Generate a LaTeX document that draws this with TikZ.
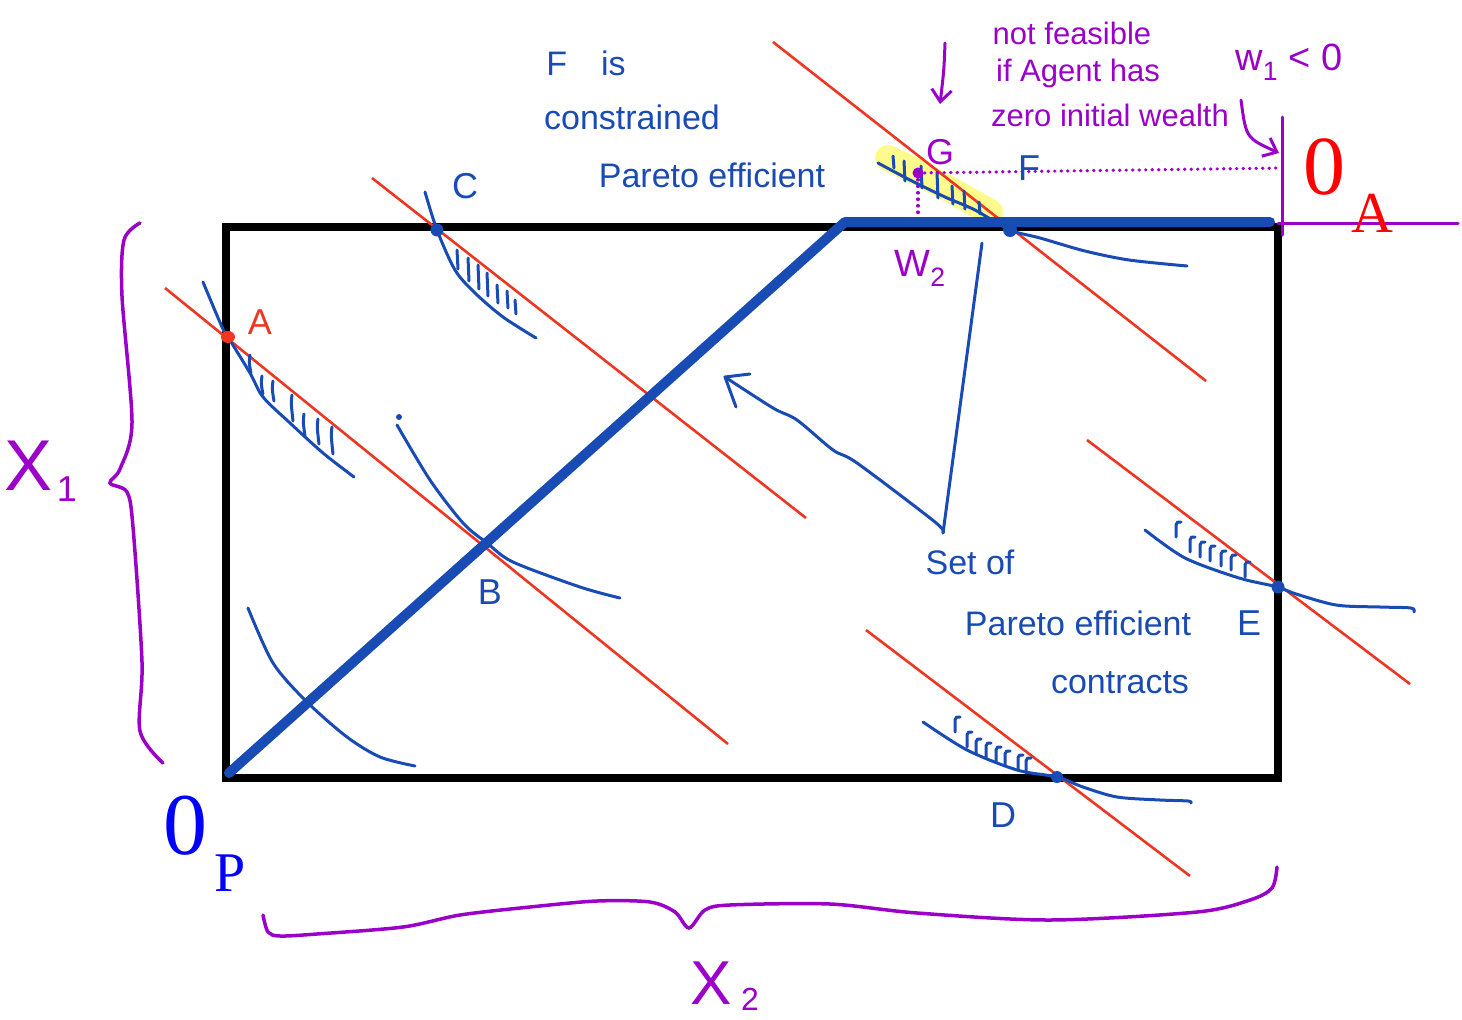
\documentclass[tikz,border=0pt]{standalone}
\usepackage{fontspec}
\setmainfont{Liberation Sans}
\newfontfamily\serifA{Liberation Serif}
\usetikzlibrary{arrows.meta}
\definecolor{pblue}{RGB}{25,75,180}
\definecolor{pred}{RGB}{238,55,35}
\definecolor{ppurple}{RGB}{155,0,200}
\definecolor{hlyellow}{RGB}{255,250,140}
\begin{document}
\begin{tikzpicture}[x=1pt,y=-1pt,
  redl/.style={pred,line width=2.6pt},
  icurve/.style={pblue,line width=3pt,line cap=round,line join=round},
  hatch/.style={pblue,line width=3pt,line cap=round},
  pline/.style={ppurple,line width=3pt,line cap=round},
  pdots/.style={ppurple,line width=3.2pt,line cap=round,dash pattern=on 0.5pt off 6pt},
  hw/.style={font=\fontsize{34}{40}\selectfont,text=pblue,inner sep=0pt},
  hwp/.style={font=\fontsize{31}{36}\selectfont,text=ppurple,inner sep=0pt},
  lbl/.style={font=\fontsize{36}{40}\selectfont,inner sep=0pt},
  barb/.style={-{Straight Barb[length=12pt,width=20pt,line width=3pt]}}
]
\useasboundingbox (0,0) rectangle (1462,1020);

% key points
\coordinate (OP) at (229,773);
\coordinate (K) at (845,222);
\coordinate (TR) at (1270,222);
\coordinate (A) at (228,337);
\coordinate (B) at (487,543);
\coordinate (C) at (437,230);
\coordinate (D) at (1057,777);
\coordinate (E) at (1278,587);
\coordinate (F) at (1010,230);
\coordinate (G) at (918,173);
\coordinate (setv) at (943,533);
\coordinate (arrtip) at (725,377);
\coordinate (ftop) at (982,243);

% Edgeworth box
\draw[line width=7.5pt,black] (226,227) rectangle (1278,778);

% yellow highlight
\draw[hlyellow,line width=26pt,line cap=round] (888,158) .. controls (930,178) and (960,195) .. (990,212);

% budget lines
\draw[redl] (165,288) -- (728,744);
\draw[redl] (372,178) -- (806,518);
\draw[redl] (773,42) -- (1206,381);
\draw[redl] (1087,440) -- (1410,684);
\draw[redl] (866,630) -- (1190,876);

% indifference curves
\draw[icurve] plot[smooth] coordinates {(203,282) (222,327) (228,337) (250,373) (263,397) (290,423) (323,453) (354,477)};
\draw[icurve] plot[smooth] coordinates {(425,192) (437,230) (455,270) (475,293) (503,317) (536,338)};
\draw[icurve] plot[smooth] coordinates {(397,425) (430,480) (463,523) (487,543) (513,562) (580,587) (620,598)};
\fill[pblue] (399,417) circle (3pt);
\draw[icurve] plot[smooth] coordinates {(248,608) (273,663) (307,702) (347,737) (380,757) (415,766)};
\draw[icurve] plot[smooth] coordinates {(878,163) (910,180) (945,197) (975,210) (1010,230) (1040,238) (1085,251) (1129,260) (1187,266)};
\draw[icurve] plot[smooth] coordinates {(1145,530) (1185,558) (1239,578) (1278,587) (1293,593) (1336,605) (1380,607) (1411,608) (1414,612)};
\draw[icurve] plot[smooth] coordinates {(923,722) (967,750) (1017,770) (1057,777) (1083,787) (1117,797) (1160,800) (1188,801) (1191,803)};

% hatches
\foreach \x/\ya/\yb in {250/355/373, 262/376/394, 273/381/401, 292/395/421, 304/414/436, 318/419/444, 332/427/454}
  \draw[hatch] (\x,\ya) .. controls (\x-1,\ya+8) .. (\x+1,\yb);
\foreach \x/\ya/\yb in {457/250/269, 468/258/281, 478/265/289, 487/273/296, 497/285/303, 507/291/308, 515/300/314}
  \draw[hatch] (\x,\ya) -- (\x+1,\yb);
\foreach \x/\ya/\yb in {893/156/168, 904/161/181, 921/166/188, 937/172/198, 952/186/204, 964/191/209, 979/202/214}
  \draw[hatch] (\x,\ya) -- (\x+1,\yb);
\foreach \x/\y in {955/720, 967/735, 976/742, 986/746, 996/750, 1005/754, 1018/758, 1026/761}
  \draw[hatch] (\x,\y+12) -- (\x,\y) .. controls (\x+1,\y-3) .. (\x+5,\y-3);
\foreach \x/\y in {1176/525, 1190/540, 1200/545, 1210/549, 1221/554, 1231/558, 1245/565}
  \draw[hatch] (\x,\y+12) -- (\x,\y) .. controls (\x+1,\y-3) .. (\x+5,\y-3);

% contract curve
\draw[pblue,line width=10pt,line cap=round,line join=round] (OP) -- (K) -- (TR);

% dots
\fill[pred] (A) ellipse (7pt and 6pt);
\fill[pblue] (C) circle (6.5pt);
\fill[pblue] (F) circle (7pt);
\fill[pblue] (E) circle (6.5pt);
\fill[pblue] (D) circle (6pt);
\fill[pblue] (B) circle (5.5pt);
\fill[ppurple] (G) circle (5.5pt);

% purple construction lines
\draw[pdots] (G) -- (1281,168);
\draw[pdots] (G) -- (918,218);
\draw[pline] (1282,117) -- (1282,235);
\draw[pline] (1278,223) -- (1458,223);
\draw[pline,barb] (945,43) .. controls (944,70) .. (940,104);
\draw[pline,barb] (1241,100) .. controls (1246,138) .. (1279,153);

% annotation arrows
\draw[pblue,line width=3pt,line join=round,line cap=round] (ftop) -- (setv);
\draw[pblue,line width=3pt,line cap=round] plot[smooth] coordinates {(setv) (935,522) (857,463) (833,450) (797,420) (773,408) (arrtip)};
\draw[pblue,line width=3pt,line cap=round,line join=round] (750,374) -- (arrtip) -- (736,407);

% braces
\draw[pline,line width=3.5pt] plot[smooth,tension=0.5] coordinates {(140,223) (124,240) (122,296) (132,423) (120,469) (110,483) (127,492) (133,527) (142,662) (140,731) (163,763)};
\draw[pline,line width=3.5pt] plot[smooth,tension=0.5] coordinates {(263,915) (268,932) (280,936) (317,934) (403,927) (460,915) (530,907) (597,901) (650,902) (675,912) (689,928) (705,910) (730,905) (830,904) (917,913) (1050,920) (1197,912) (1250,900) (1272,888) (1277,867)};

% origin labels
\node[font=\serifA\fontsize{84}{84}\selectfont,text=red,inner sep=0pt] (OAzero) at (1324,167) {0};
\node[font=\serifA\fontsize{58}{58}\selectfont,text=red,inner sep=0pt] (OAsub) at (1372,213) {A};
\node[font=\serifA\fontsize{88}{88}\selectfont,text=blue,inner sep=0pt] (OPzero) at (185,826) {0};
\node[font=\serifA\fontsize{56}{56}\selectfont,text=blue,inner sep=0pt] (OPsub) at (230,873) {P};

% axis labels
\node[font=\fontsize{72}{72}\selectfont,text=ppurple,inner sep=0pt] (xone) at (29,466) {X};
\node[font=\fontsize{36}{36}\selectfont,text=ppurple,inner sep=0pt] (xonesub) at (67,489) {1};
\node[font=\fontsize{62}{62}\selectfont,text=ppurple,inner sep=0pt] (xtwo) at (711,983) {X};
\node[font=\fontsize{32}{32}\selectfont,text=ppurple,inner sep=0pt] (xtwosub) at (750,999) {2};

% point labels
\node[lbl,text=pred] (lA) at (260,322) {A};
\node[lbl,text=pblue] (lB) at (490,592) {B};
\node[lbl,text=pblue] (lC) at (465,186) {C};
\node[lbl,text=pblue] (lD) at (1003,815) {D};
\node[lbl,text=pblue] (lE) at (1249,623) {E};
\node[lbl,text=pblue] (lF) at (1029,168) {F};
\node[lbl,text=ppurple] (lG) at (940,152) {G};
\node[font=\fontsize{38}{40}\selectfont,text=ppurple,inner sep=0pt] (lW2) at (920,268) {W\textsubscript{2}};
\node[font=\fontsize{38}{40}\selectfont,text=ppurple,inner sep=0pt] (lW1) at (1289,62) {w\textsubscript{1} < 0};

% handwritten notes
\node[hw] (n1) at (586,63) {F\hspace{34pt}is};
\node[hw] (n2) at (632,117) {constrained};
\node[hw] (n3) at (712,175) {Pareto efficient};
\node[hwp] (p1) at (1072,33) {not feasible};
\node[hwp] (p2) at (1078,73) {if Agent has};
\node[hwp] (p3) at (1110,115) {zero initial wealth};
\node[hw] (s1) at (970,562) {Set of};
\node[hw] (s2) at (1078,623) {Pareto efficient};
\node[hw] (s3) at (1120,683) {contracts};
\end{tikzpicture}
\end{document}
